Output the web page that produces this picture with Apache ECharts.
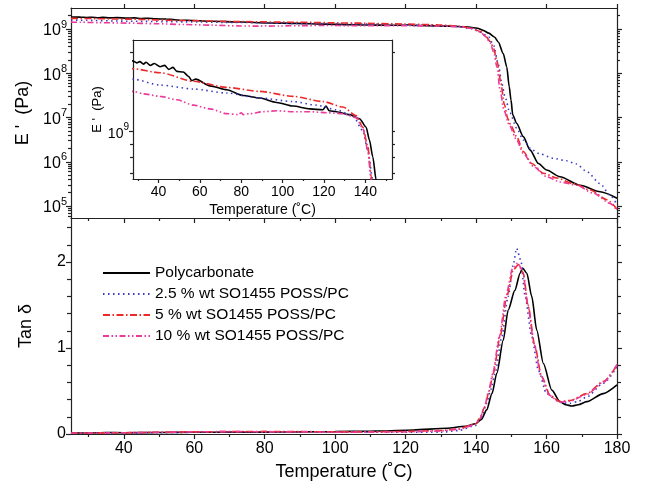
<!DOCTYPE html>
<html><head><meta charset="utf-8">
<script src="https://cdn.jsdelivr.net/npm/echarts@6/dist/echarts.min.js"></script>
<style>html,body{margin:0;padding:0;background:#fff}#c{width:645px;height:489px}</style>
</head><body><div id="c"></div>
<script>
// ---------------- data ----------------
const seriesNames = ['Polycarbonate', '2.5 % wt SO1455 POSS/PC', '5 % wt SO1455 POSS/PC', '10 % wt SO1455 POSS/PC'];

// Storage modulus E' (Pa) vs temperature (°C)
const pcModulus = [[25,1.86e9],[27.7,1.85e9],[29.5,1.82e9],[31,1.84e9],[32.8,1.80e9],[34,1.83e9],[36,1.78e9],[38,1.81e9],[40.8,1.76e9],[43,1.78e9],[45,1.72e9],[47,1.75e9],[48.9,1.69e9],[52,1.68e9],[54.5,1.62e9],[56.1,1.56e9],[58,1.58e9],[64.9,1.49e9],[73,1.44e9],[81,1.37e9],[89,1.34e9],[97.1,1.29e9],[105.1,1.25e9],[113.1,1.22e9],[119.5,1.21e9],[121,1.25e9],[122.5,1.20e9],[126,1.19e9],[132.4,1.16e9],[137.2,1.12e9],[140.4,1.04e9],[142,9.3e8],[143.6,8.05e8],[145.2,6.6e8],[146.3,5.1e8],[147.7,2.8e8],[148.7,1.4e8],[149.4,5.0e7],[149.9,2.5e7],[150.4,1.15e7],[151.5,7.4e6],[153.4,3.7e6],[155.3,1.86e6],[157.7,9.1e5],[160,6.5e5],[163.8,4.6e5],[169.5,2.95e5],[175.2,2.1e5],[180,1.5e5]];
const poss25Modulus = [[25,1.59e9],[27.7,1.58e9],[40.8,1.50e9],[56.9,1.45e9],[73,1.40e9],[89,1.34e9],[105.1,1.30e9],[116.3,1.26e9],[126,1.21e9],[134,1.15e9],[138.8,1.01e9],[141.2,8.5e8],[143.6,6.6e8],[145,4.2e8],[146.3,1.6e8],[147.3,5.9e7],[148.2,2.95e7],[149.6,1.26e7],[151.5,5.8e6],[153.4,3.1e6],[155.8,1.86e6],[158.1,1.51e6],[161.9,1.2e6],[165.7,1.05e6],[168.5,8.9e5],[171.4,6.0e5],[175.2,3.2e5],[178,1.78e5],[180,1.07e5]];
const poss5Modulus = [[25,1.74e9],[27.7,1.73e9],[40.8,1.67e9],[56.9,1.55e9],[73,1.47e9],[89,1.42e9],[105.1,1.36e9],[119.5,1.30e9],[129.2,1.24e9],[135.6,1.15e9],[138.8,1.04e9],[141.2,8.8e8],[142.8,6.8e8],[144,5.2e8],[145,3.6e8],[146,1.8e8],[147,6.3e7],[148,2.0e7],[149,9.5e6],[150,6.3e6],[151.5,3.7e6],[153.4,1.7e6],[155.8,9.1e5],[159.1,5.5e5],[162.9,4.3e5],[167.6,3.2e5],[172.4,2.3e5],[177.2,1.38e5],[180,8.5e4]];
const poss10Modulus = [[25,1.43e9],[27.7,1.42e9],[32.8,1.39e9],[40.8,1.36e9],[48.9,1.32e9],[56.9,1.26e9],[64.9,1.22e9],[73,1.17e9],[78.6,1.16e9],[80,1.18e9],[81,1.16e9],[84.2,1.17e9],[90.6,1.19e9],[97.1,1.20e9],[105.1,1.19e9],[113.1,1.19e9],[121.2,1.18e9],[129.2,1.17e9],[135.6,1.13e9],[138.8,1.03e9],[141.2,8.5e8],[142.8,6.6e8],[144,4.8e8],[145,3.0e8],[145.9,1.4e8],[146.8,4.2e7],[147.9,1.48e7],[149.4,6.8e6],[151.5,3.1e6],[153.4,1.55e6],[156.3,7.8e5],[160,4.6e5],[163.8,3.5e5],[168.5,2.95e5],[173.3,1.95e5],[178,1.15e5],[180,7.9e4]];

// Tan delta vs temperature (°C)
const pcTan = [[25,0.01],[30,0.012],[35,0.018],[40,0.015],[50,0.018],[60,0.02],[70,0.022],[80,0.022],[90,0.025],[100,0.028],[110,0.032],[112.7,0.035],[122.2,0.047],[131.6,0.066],[137,0.09],[139.9,0.12],[141.5,0.17],[143,0.28],[144.5,0.47],[145.9,0.71],[147.7,1.09],[149.1,1.44],[151,1.67],[152.5,1.87],[153.2,1.93],[154.4,1.87],[155.8,1.60],[157.2,1.21],[159.1,0.82],[161.5,0.51],[163.8,0.376],[165.5,0.34],[167.2,0.326],[169,0.34],[171.4,0.376],[176.1,0.47],[180,0.57]];
const poss25Tan = [[25,0.01],[30,0.01],[40,0.012],[50,0.015],[60,0.02],[70,0.022],[80,0.025],[90,0.022],[100,0.02],[110,0.02],[120,0.02],[130,0.02],[135,0.04],[139.9,0.10],[141.5,0.19],[143,0.36],[144.2,0.52],[145.4,0.71],[147.3,1.13],[149.1,1.60],[150.6,1.98],[151.5,2.16],[152.7,2.02],[153.9,1.60],[155.8,1.13],[157.7,0.74],[160,0.47],[162.9,0.395],[164.5,0.36],[166.7,0.357],[169,0.38],[171.4,0.43],[176.1,0.59],[180,0.78]];
const poss5Tan = [[25,0.01],[30,0.012],[40,0.015],[50,0.02],[60,0.025],[70,0.028],[80,0.03],[90,0.028],[100,0.025],[110,0.025],[120,0.03],[130,0.04],[135,0.06],[139.9,0.12],[141,0.18],[142.5,0.32],[143.7,0.50],[144.9,0.71],[146.8,1.13],[148.7,1.60],[150.6,1.91],[152,1.97],[153.4,1.87],[154.8,1.48],[156.7,1.02],[158.6,0.67],[161,0.45],[163.8,0.376],[166.7,0.39],[171.4,0.47],[176.1,0.61],[180,0.80]];
const poss10Tan = [[25,0.008],[30,0.01],[40,0.015],[50,0.02],[60,0.025],[70,0.028],[80,0.025],[90,0.025],[100,0.022],[110,0.022],[120,0.025],[130,0.035],[135,0.055],[139.9,0.11],[141,0.17],[142.3,0.30],[143.5,0.49],[144.7,0.70],[146.6,1.13],[148.5,1.62],[150.4,1.93],[151.8,1.99],[153.2,1.90],[154.6,1.52],[156.5,1.04],[158.4,0.68],[160.8,0.45],[163.6,0.37],[166.5,0.38],[171.4,0.46],[176.1,0.60],[180,0.81]];

// ticks / labels
const tempLabels = [40, 60, 80, 100, 120, 140, 160, 180];
const tempMinorTicks = [30, 50, 70, 90, 110, 130, 150, 170];
const insetTempLabels = [40, 60, 80, 100, 120, 140];
const insetTempMinorTicks = [30, 50, 70, 90, 110, 130, 150];
const modulusLabels = [1e5, 1e6, 1e7, 1e8, 1e9];
const logMultipliers = [2, 3, 4, 5, 6, 7, 8, 9];
const insetModulusLabels = [1e9];
const insetModulusTicks = [7e8, 8e8, 9e8, 2e9];
const tanLabels = [0, 1, 2];
const tanMinorTicks = [0.2, 0.4, 0.6, 0.8, 1.2, 1.4, 1.6, 1.8, 2.2, 2.4];

// ---------------- chart ----------------
const modulusMinorTicks = [];
[1e4, 1e5, 1e6, 1e7, 1e8, 1e9].forEach(d => logMultipliers.forEach(m => modulusMinorTicks.push(d * m)));

const FONT = 'Liberation Sans, Arial, sans-serif';
const AXC = '#222';
const lineSt = { color: AXC, width: 1.2 };

function tickAxis(base, values, len, showLine) {
  return Object.assign({
    axisLine: { show: !!showLine, lineStyle: lineSt },
    axisTick: { show: true, inside: false, customValues: values, length: len, lineStyle: lineSt },
    axisLabel: { show: false },
    splitLine: { show: false },
    silent: true
  }, base);
}

const chart = echarts.init(document.getElementById('c'));
const T_TOP = { type: 'value', min: 25, max: 180 };
const T_IN = { type: 'value', min: 27.7, max: 152.9 };
const topLog = { type: 'log', logBase: 10, min: 5.36e4, max: 2.98e9 };
const inLog = { type: 'log', logBase: 10, min: 6.63e8, max: 2.22e9 };
const tanY = { type: 'value', min: 0, max: 2.512 };

const supFmt = v => '{b|10}{s|' + Math.round(Math.log10(v)) + '}';

const xAxes = [
  tickAxis(Object.assign({ gridIndex: 0, position: 'bottom' }, T_TOP), tempLabels, 5, true),
  tickAxis(Object.assign({ gridIndex: 0, position: 'bottom' }, T_TOP), tempMinorTicks, 3, false),
  tickAxis(Object.assign({ gridIndex: 0, position: 'top' }, T_TOP), tempLabels, 4, true),
  Object.assign(tickAxis(Object.assign({ gridIndex: 1, position: 'bottom' }, T_TOP), tempLabels, 5, true), {
    axisLabel: { show: true, customValues: tempLabels, fontSize: 16, color: '#000', fontFamily: FONT, margin: 7 },
    name: 'Temperature (˚C)', nameLocation: 'middle', nameGap: 29,
    nameTextStyle: { fontSize: 18, color: '#000', fontFamily: FONT }
  }),
  tickAxis(Object.assign({ gridIndex: 1, position: 'bottom' }, T_TOP), tempMinorTicks, 3, false),
  Object.assign(tickAxis(Object.assign({ gridIndex: 2, position: 'bottom' }, T_IN), insetTempLabels, 4, true), {
    axisLabel: { show: true, customValues: insetTempLabels, fontSize: 14, color: '#000', fontFamily: FONT, margin: 6 },
    name: 'Temperature (˚C)', nameLocation: 'middle', nameGap: 24,
    nameTextStyle: { fontSize: 14, color: '#000', fontFamily: FONT }
  }),
  tickAxis(Object.assign({ gridIndex: 2, position: 'bottom' }, T_IN), insetTempMinorTicks, 2, false),
  tickAxis(Object.assign({ gridIndex: 2, position: 'top' }, T_IN), [], 0, true)
];

const yAxes = [
  Object.assign(tickAxis(Object.assign({ gridIndex: 0, position: 'left' }, topLog), modulusLabels, 5, true), {
    axisLabel: {
      show: true, customValues: modulusLabels, formatter: supFmt, margin: 4, fontFamily: FONT,
      rich: {
        b: { fontSize: 16, lineHeight: 20, verticalAlign: 'bottom', color: '#000', fontFamily: FONT },
        s: { fontSize: 11, lineHeight: 11, verticalAlign: 'top', color: '#000', fontFamily: FONT }
      }
    },
    name: "E '  (Pa)", nameLocation: 'middle', nameGap: 36,
    nameTextStyle: { fontSize: 18, color: '#000', fontFamily: FONT }
  }),
  tickAxis(Object.assign({ gridIndex: 0, position: 'left' }, topLog), modulusMinorTicks, 3, false),
  tickAxis(Object.assign({ gridIndex: 0, position: 'right' }, topLog), modulusLabels, 5, true),
  tickAxis(Object.assign({ gridIndex: 0, position: 'right' }, topLog), modulusMinorTicks, 3, false),
  Object.assign(tickAxis(Object.assign({ gridIndex: 1, position: 'left' }, tanY), tanLabels, 5, true), {
    axisLabel: { show: true, customValues: tanLabels, fontSize: 16, color: '#000', fontFamily: FONT, margin: 5 },
    name: 'Tan δ', nameLocation: 'middle', nameGap: 36,
    nameTextStyle: { fontSize: 18, color: '#000', fontFamily: FONT }
  }),
  tickAxis(Object.assign({ gridIndex: 1, position: 'left' }, tanY), tanMinorTicks, 4, false),
  tickAxis(Object.assign({ gridIndex: 1, position: 'right' }, tanY), tanLabels, 5, true),
  tickAxis(Object.assign({ gridIndex: 1, position: 'right' }, tanY), tanMinorTicks, 4, false),
  Object.assign(tickAxis(Object.assign({ gridIndex: 2, position: 'left' }, inLog), insetModulusLabels, 4, true), {
    axisLabel: {
      show: true, customValues: insetModulusLabels, formatter: supFmt, margin: 4, fontFamily: FONT,
      rich: {
        b: { fontSize: 14, lineHeight: 18, verticalAlign: 'bottom', color: '#000', fontFamily: FONT },
        s: { fontSize: 10, lineHeight: 10, verticalAlign: 'top', color: '#000', fontFamily: FONT }
      }
    },
    name: "E '  (Pa)", nameLocation: 'middle', nameGap: 27,
    nameTextStyle: { fontSize: 13, color: '#000', fontFamily: FONT }
  }),
  tickAxis(Object.assign({ gridIndex: 2, position: 'left' }, inLog), insetModulusTicks, 3, false),
  tickAxis(Object.assign({ gridIndex: 2, position: 'right' }, inLog), insetModulusLabels.concat(insetModulusTicks), 3, true)
];

const lineStyles = [
  { color: '#000000', type: 'solid', width: 1.6 },
  { color: '#3b3bc4', type: [1.5, 3.5], width: 1.6 },
  { color: '#ec2a2a', type: [7, 2.5, 1.5, 2.5], width: 1.6 },
  { color: '#ec3a9a', type: [6, 2.5, 1.5, 2.5, 1.5, 2.5], width: 1.6 }
];
const modulusData = [pcModulus, poss25Modulus, poss5Modulus, poss10Modulus];
const tanData = [pcTan, poss25Tan, poss5Tan, poss10Tan];

const series = [];
seriesNames.forEach((name, i) => {
  const common = {
    name, type: 'line', symbol: 'none', showSymbol: false, smooth: 0.25, smoothMonotone: 'x',
    lineStyle: lineStyles[i], itemStyle: { color: lineStyles[i].color }, clip: true, silent: true
  };
  series.push(Object.assign({}, common, { xAxisIndex: 0, yAxisIndex: 0, data: modulusData[i] }));
  series.push(Object.assign({}, common, { xAxisIndex: 5, yAxisIndex: 8, data: modulusData[i] }));
  series.push(Object.assign({}, common, { xAxisIndex: 3, yAxisIndex: 4, data: tanData[i] }));
});

chart.setOption({
  animation: false,
  backgroundColor: '#fff',
  textStyle: { fontFamily: FONT },
  grid: [
    { left: 71, top: 8, width: 546, height: 210 },
    { left: 71, top: 218, width: 546, height: 216 },
    { left: 133, top: 40, width: 259, height: 139, show: true, backgroundColor: '#fff', borderWidth: 0 }
  ],
  legend: {
    data: seriesNames, orient: 'vertical', left: 97, top: 260,
    itemWidth: 47, itemHeight: 14, itemGap: 5,
    itemStyle: { opacity: 0 },
    textStyle: { fontSize: 15.5, color: '#000', fontFamily: FONT },
    selectedMode: false
  },
  xAxis: xAxes,
  yAxis: yAxes,
  series
});
</script>
</body></html>
